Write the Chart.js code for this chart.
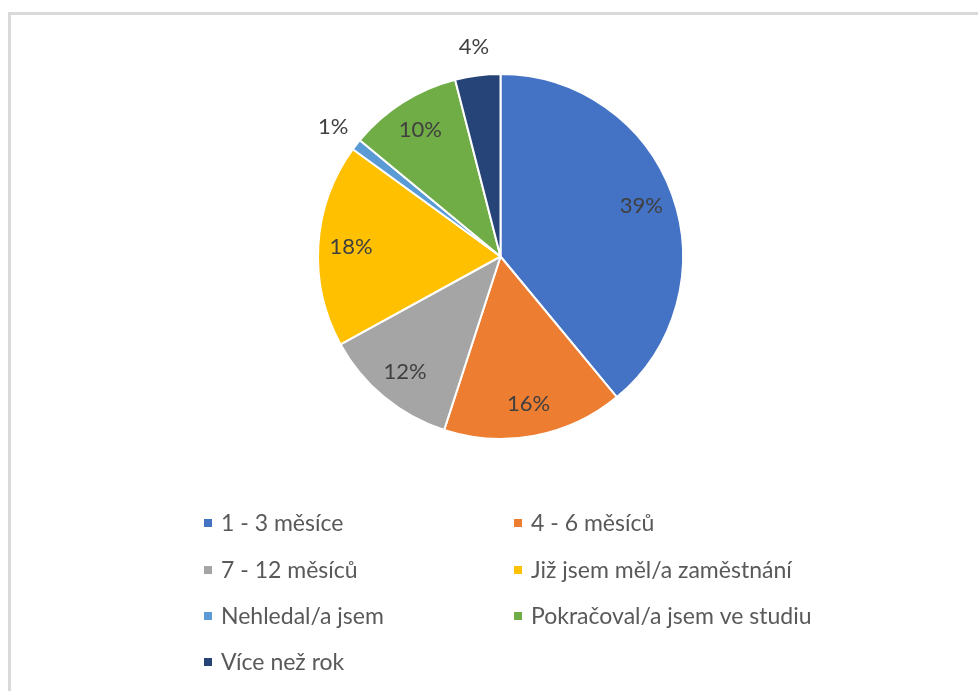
<!DOCTYPE html>
<html>
<head>
<meta charset="utf-8">
<script src="https://cdn.jsdelivr.net/npm/chart.js@4/dist/chart.umd.min.js"></script>
<style>
  html, body { margin: 0; padding: 0; background: #fff; }
  #wrap { width: 978px; height: 691px; position: relative; }
</style>
</head>
<body>
<div id="wrap"><canvas id="myChart" width="978" height="691"></canvas></div>
<script>
var labels = ['1 - 3 měsíce', '4 - 6 měsíců', '7 - 12 měsíců', 'Již jsem měl/a zaměstnání',
    'Nehledal/a jsem', 'Pokračoval/a jsem ve studiu', 'Více než rok'];
var values = [39, 16, 12, 18, 1, 10, 4];
var colors = ['#4472C4', '#ED7D31', '#A5A5A5', '#FFC000', '#5B9BD5', '#70AD47', '#264478'];

// grey frame round the chart, like the office chart box
var frame = {
    id: 'frame',
    beforeDraw: function (chart) {
        var c = chart.ctx;
        c.save();
        c.fillStyle = '#fff';
        c.fillRect(0, 0, chart.width, chart.height);
        c.strokeStyle = '#d9d9d9';
        c.lineWidth = 3;
        c.beginPath();
        c.moveTo(9.5, chart.height + 5);
        c.lineTo(9.5, 13.5);
        c.lineTo(chart.width + 5, 13.5);
        c.stroke();
        c.restore();
    }
};

// percentage labels, small slices go outside
var pctLabels = {
    id: 'pctLabels',
    afterDatasetsDraw: function (chart) {
        var c = chart.ctx;
        var meta = chart.getDatasetMeta(0);
        c.save();
        c.font = '22px Lato';
        c.fillStyle = '#404040';
        c.textAlign = 'center';
        c.textBaseline = 'middle';
        meta.data.forEach(function (arc, i) {
            var p = arc.getProps(['x', 'y', 'startAngle', 'endAngle', 'outerRadius'], true);
            var mid = (p.startAngle + p.endAngle) / 2;
            var f = values[i] < 5 ? 1.16 : 0.82;
            var r = p.outerRadius * f;
            c.fillText(values[i] + '%', p.x + Math.cos(mid) * r, p.y + Math.sin(mid) * r);
        });
        c.restore();
    }
};

// legend in two columns under the pie
var legend2 = {
    id: 'legend2',
    afterDraw: function (chart) {
        var c = chart.ctx;
        var colX = [204, 514];
        var rowY = [523, 570, 616, 662];
        c.save();
        c.font = '23px Lato';
        c.textBaseline = 'middle';
        labels.forEach(function (lab, i) {
            var x = colX[i % 2];
            var y = rowY[Math.floor(i / 2)];
            c.fillStyle = colors[i];
            c.fillRect(x, y - 4, 8, 8);
            c.fillStyle = '#595959';
            c.fillText(lab, x + 17, y + 1);
        });
        c.restore();
    }
};

var ctx = document.getElementById('myChart').getContext('2d');
var myChart = new Chart(ctx, {
    type: 'pie',
    data: {
        labels: labels,
        datasets: [{
            data: values,
            backgroundColor: colors,
            borderColor: '#fff',
            borderWidth: 2,
            hoverOffset: 0
        }]
    },
    options: {
        responsive: false,
        animation: false,
        layout: {
            padding: { left: 317, right: 294, top: 73, bottom: 251 }
        },
        plugins: {
            legend: { display: false },
            tooltip: { enabled: false }
        }
    },
    plugins: [frame, pctLabels, legend2]
});
</script>
</body>
</html>
